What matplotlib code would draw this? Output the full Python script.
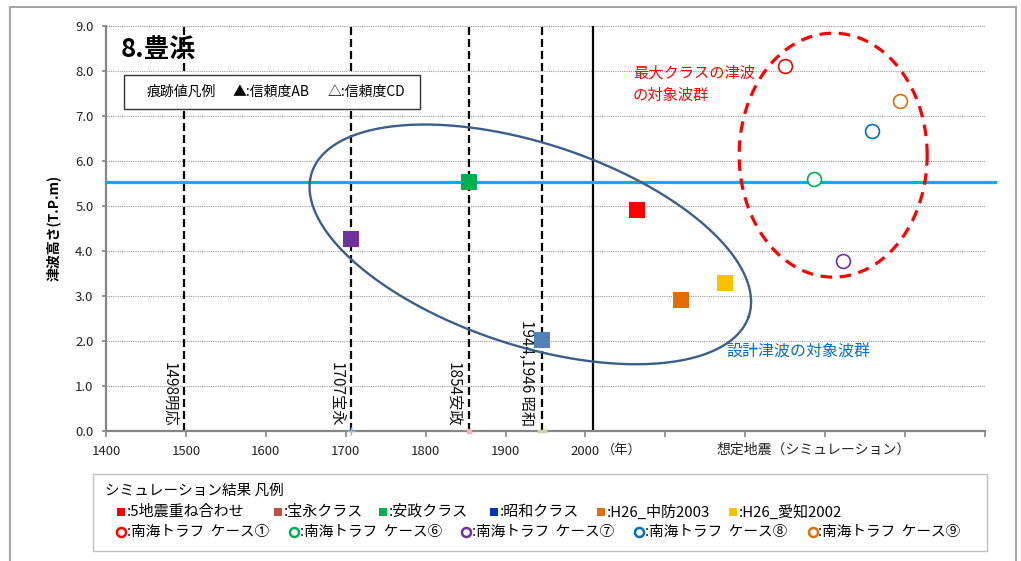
import numpy as np
import matplotlib
matplotlib.use("Agg")
import matplotlib.pyplot as plt
from matplotlib.patches import Rectangle
from matplotlib.lines import Line2D

plt.rcParams['font.family'] = ['Noto Sans CJK JP', 'DejaVu Sans']

# ---------------- data ----------------
event_years = [1498, 1707, 1854, 1945]
event_labels = ["1498明応", "1707宝永", "1854安政", "1944,1946 昭和"]
present_year = 2010

hist_years = [1707, 1854, 1945]
hist_heights = [4.27, 5.53, 2.02]
hist_colors = ["#7030A0", "#00B050", "#4F81BD"]

sim_x = [2064, 2120, 2175]
sim_heights = [4.90, 2.91, 3.30]
sim_colors = ["#FF0000", "#E46C0A", "#FFC000"]

case_x = [2250, 2286, 2322, 2358, 2394]
case_heights = [8.11, 5.61, 3.78, 6.67, 7.33]
case_colors = ["#FF0000", "#00B050", "#7030A0", "#0070C0", "#E46C0A"]

design_height = 5.54

xticks = list(range(1400, 2600, 100))
xtick_labels = [str(v) if v <= 2000 else "" for v in xticks]
yticks = [i * 1.0 for i in range(10)]

legend_sq_labels = [":5地震重ね合わせ", ":宝永クラス", ":安政クラス", ":昭和クラス",
                    ":H26_中防2003", ":H26_愛知2002"]
legend_sq_colors = ["#FF0000", "#C0504D", "#00B050", "#0033CC", "#E46C0A", "#FFC000"]
legend_ci_labels = [":南海トラフ  ケース①", ":南海トラフ  ケース⑥", ":南海トラフ  ケース⑦",
                    ":南海トラフ  ケース⑧", ":南海トラフ  ケース⑨"]
legend_ci_colors = ["#FF0000", "#00B050", "#7030A0", "#0070C0", "#E46C0A"]

# ---------------- layout ----------------
W, H = 1021, 561
fig = plt.figure(figsize=(W / 100, H / 100), dpi=100)
fx = lambda px: px / W
fy = lambda py: 1 - py / H

ax_l, ax_r, ax_t, ax_b = 106, 985, 26, 431
ax = fig.add_axes([fx(ax_l), fy(ax_b), (ax_r - ax_l) / W, (ax_b - ax_t) / H])
ax.set_xlim(1400, 2500)
ax.set_ylim(0, 9)

# outer frame
for (x0, y0, x1, y1) in [(10, 7, 1016, 7), (10, 7, 10, 561), (1016, 7, 1016, 561)]:
    fig.add_artist(Line2D([fx(x0), fx(x1)], [fy(y0), fy(y1)], color="#A6A6A6", lw=1.5,
                          transform=fig.transFigure))

# grid
ax.set_yticks(yticks)
ax.set_yticklabels([f"{v:.1f}" for v in yticks], fontsize=9.5, color="#222222")
ax.set_xticks(xticks)
ax.set_xticklabels(xtick_labels, fontsize=9.5, color="#222222")
ax.yaxis.grid(True, linestyle=(0, (1, 1)), color="#9A9A9A", lw=0.8)
ax.set_axisbelow(True)
for s in ["top", "right"]:
    ax.spines[s].set_visible(False)
for s in ["left", "bottom"]:
    ax.spines[s].set_color("#868686")
    ax.spines[s].set_linewidth(1.6)
ax.tick_params(axis="x", direction="out", length=4, width=1.2, color="#868686", pad=6)
ax.tick_params(axis="y", direction="out", length=3, width=1.2, color="#868686", pad=6)

# cyan design line
ax.plot([1400, 2512], [design_height] * 2, color="#00B0F0", lw=2.3, clip_on=False, zorder=3)

# event lines
for yr, lab in zip(event_years, event_labels):
    ax.plot([yr, yr], [0, 9], color="black", lw=1.6, linestyle=(0, (3.6, 1.8)), zorder=2)
    ax.text(yr - 8, 0.1, lab, rotation=270, ha="right", va="bottom", fontsize=11,
            color="#111111", zorder=4)
ax.plot([present_year] * 2, [0, 9], color="black", lw=1.6, zorder=2)

# tiny bottom marks
ax.plot([1707], [0], marker="+", color="#8EB4E3", ms=6, clip_on=False, zorder=5)
ax.plot([1854], [0], marker="s", color="#E6B9B8", ms=3, clip_on=False, zorder=5)
ax.plot([1945], [0], marker="_", color="#C3D69B", ms=7, mew=2.5, clip_on=False, zorder=5)

# ellipses (shaped in display space, converted to data units)
sx = (ax_r - ax_l) / 1100.0
sy = (ax_b - ax_t) / 9.0
t = np.linspace(0, 2 * np.pi, 400)

def ellipse(cx, cy, a_px, b_px, ang_deg):
    ph = np.deg2rad(ang_deg)
    dx = a_px * np.cos(t) * np.cos(ph) - b_px * np.sin(t) * np.sin(ph)
    dy = a_px * np.cos(t) * np.sin(ph) + b_px * np.sin(t) * np.cos(ph)
    return cx + dx / sx, cy + dy / sy

ex, ey = ellipse(1931, 4.147, 230, 101, -18.2)
ax.plot(ex, ey, color="#3B5E8C", lw=1.7, zorder=4)
rx, ry = ellipse(2310, 6.13, 94, 122, 0)
ax.plot(rx, ry, color="#FF0000", lw=2.3, linestyle=(0, (3.6, 2.4)), zorder=4)

# markers
for x, y, c in zip(hist_years, hist_heights, hist_colors):
    ax.plot([x], [y], linestyle="none", marker="s", ms=11.5, color=c, mew=0, zorder=6)
for x, y, c in zip(sim_x, sim_heights, sim_colors):
    ax.plot([x], [y], linestyle="none", marker="s", ms=11.5, color=c, mew=0, zorder=6)
for x, y, c in zip(case_x, case_heights, case_colors):
    ax.plot([x], [y], linestyle="none", marker="o", ms=10, mfc="white", mec=c, mew=1.2, zorder=6)

# axis texts
ax.text(2046, -0.42, "（年）", ha="center", va="center", fontsize=9.5, color="#222222")
ax.text(2285, -0.42, "想定地震（シミュレーション）", ha="center", va="center", fontsize=10,
        color="#222222")
fig.text(fx(53), fy(228), "津波高さ(T.P.m)", rotation=90, ha="center", va="center",
         fontsize=10, fontweight="bold")

# annotations
fig.text(fx(121), fy(50), "8.豊浜", ha="left", va="center", fontsize=18.5, fontweight="bold")
fig.add_artist(Rectangle((fx(124), fy(109)), fx(420) - fx(124), fy(75) - fy(109),
                         transform=fig.transFigure, fill=True, fc="white", ec="#333333", lw=1.0))
fig.text(fx(147), fy(92), "痕跡値凡例", ha="left", va="center", fontsize=10)
fig.text(fx(233), fy(92), "▲:信頼度AB", ha="left", va="center", fontsize=10)
fig.text(fx(328), fy(92), "△:信頼度CD", ha="left", va="center", fontsize=10)

fig.text(fx(633), fy(73), "最大クラスの津波", ha="left", va="center", fontsize=11, color="#FF0000")
fig.text(fx(633), fy(95), "の対象波群", ha="left", va="center", fontsize=11, color="#FF0000")
fig.text(fx(726), fy(352), "設計津波の対象波群", ha="left", va="center", fontsize=11.5,
         color="#0070C0")

# bottom legend
fig.add_artist(Rectangle((fx(93), fy(551)), fx(987) - fx(93), fy(474) - fy(551),
                         transform=fig.transFigure, fill=False, ec="#BFBFBF", lw=1.0))
fig.text(fx(105), fy(491), "シミュレーション結果 凡例", ha="left", va="center", fontsize=10.5)
sq_pos = [121, 278, 383, 494, 601, 733]
for px, lab, c in zip(sq_pos, legend_sq_labels, legend_sq_colors):
    fig.add_artist(Line2D([fx(px)], [fy(512)], marker="s", ms=6, color=c, mew=0,
                          transform=fig.transFigure))
    fig.text(fx(px + 6), fy(512), lab, ha="left", va="center", fontsize=10.8)
ci_pos = [120.5, 293.5, 466, 639, 812.5]
for px, lab, c in zip(ci_pos, legend_ci_labels, legend_ci_colors):
    fig.add_artist(Line2D([fx(px)], [fy(532)], marker="o", ms=6.5, mfc="white", mec=c, mew=1.8,
                          transform=fig.transFigure))
    fig.text(fx(px + 6), fy(532), lab, ha="left", va="center", fontsize=10.5)

fig.savefig("out.png", dpi=100)
